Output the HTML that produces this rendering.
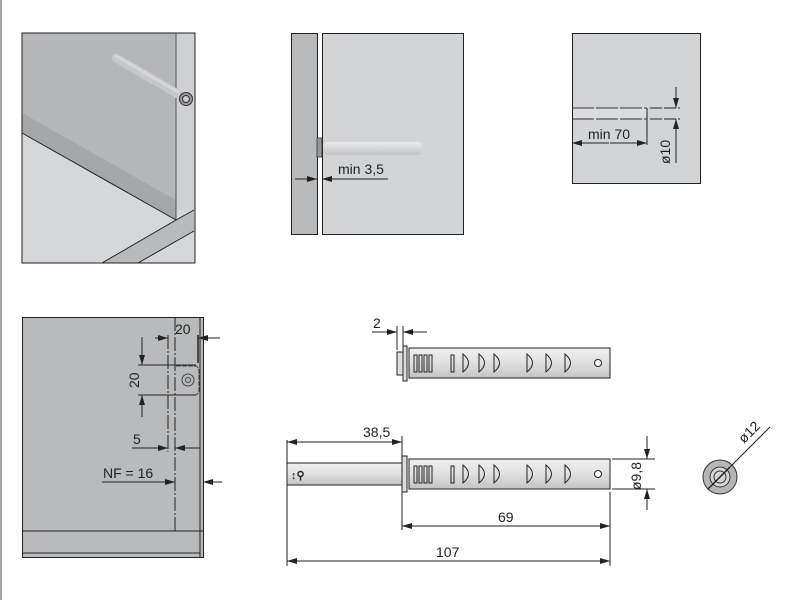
<!DOCTYPE html>
<html><head><meta charset="utf-8"><style>
html,body{margin:0;padding:0;background:#fff;}
svg{display:block}
text{font-family:"Liberation Sans",sans-serif;fill:#222;}
</style></head><body>
<svg width="800" height="600" viewBox="0 0 800 600" xmlns="http://www.w3.org/2000/svg">
<defs>
<marker id="a" viewBox="0 0 10 6" refX="10" refY="3" markerWidth="10" markerHeight="6" orient="auto" markerUnits="userSpaceOnUse"><path d="M0,0L10,3L0,6z" fill="#222"/></marker>
<linearGradient id="pin" x1="0" y1="0" x2="0" y2="1"><stop offset="0" stop-color="#e8e8e8"/><stop offset="1" stop-color="#c4c5c7"/></linearGradient>
<linearGradient id="tube" x1="0" y1="0" x2="0" y2="1"><stop offset="0" stop-color="#f0f0f0"/><stop offset="0.5" stop-color="#e0e0e0"/><stop offset="1" stop-color="#c4c4c4"/></linearGradient>
</defs>
<rect x="0" y="0" width="2" height="600" fill="#a8a8ac"/>

<!-- Panel 1 -->
<rect x="22" y="33" width="173" height="230" fill="#d6d7d9"/>
<polygon points="22,33 176,33 176,220 22,133" fill="#b5b6b8"/>
<polygon points="22,113 176,200 176,220 22,133" fill="#a6a7a9"/>
<rect x="176" y="33" width="19" height="177" fill="#cfd0d2"/>
<polygon points="176,220 194,210 194,231 138,263 102,263 176,220" fill="#b9babc"/>
<line x1="22" y1="133" x2="176" y2="220" stroke="#222" stroke-width="1"/>
<line x1="176" y1="33" x2="176" y2="220" stroke="#555" stroke-width="1"/>
<line x1="176" y1="220" x2="194" y2="210" stroke="#222"/>
<line x1="194" y1="231" x2="138" y2="263" stroke="#222"/>
<line x1="176" y1="220" x2="102" y2="263" stroke="#222"/>
<line x1="116" y1="58" x2="178" y2="94" stroke="#c6c7c9" stroke-width="9" stroke-linecap="round"/>
<line x1="116" y1="56" x2="178" y2="92" stroke="#d6d6d6" stroke-width="3" stroke-linecap="round"/>
<circle cx="186" cy="99" r="6.5" fill="#999" stroke="#333"/>
<circle cx="186" cy="99" r="3.5" fill="#ccc" stroke="#333"/>
<rect x="22" y="33" width="173" height="230" fill="none" stroke="#222"/>

<!-- Panel 2 -->
<rect x="291.5" y="33.5" width="26" height="201" fill="#b9babc" stroke="#222"/>
<rect x="322.5" y="33.5" width="141" height="201" fill="#d3d4d6" stroke="#222"/>
<rect x="323" y="142" width="99" height="13" rx="4" fill="url(#pin)"/>
<rect x="317" y="138" width="5" height="19" fill="#999" stroke="#333" stroke-width="0.8"/>
<line x1="295" y1="179" x2="317" y2="179" stroke="#222" marker-end="url(#a)"/>
<line x1="388" y1="179" x2="322" y2="179" stroke="#222" marker-end="url(#a)"/>
<text x="338" y="174" font-size="14">min 3,5</text>

<!-- Panel 3 -->
<rect x="572.5" y="33.5" width="128" height="150" fill="#d3d4d6" stroke="#222"/>
<rect x="573" y="108" width="74" height="11" fill="#dcdcdd"/>
<line x1="572" y1="108" x2="647" y2="108" stroke="#333" stroke-dasharray="22,2"/>
<line x1="572" y1="119" x2="647" y2="119" stroke="#333" stroke-dasharray="22,2"/>
<line x1="647" y1="108" x2="647" y2="145" stroke="#222"/>
<line x1="650" y1="108" x2="680" y2="108" stroke="#222" stroke-dasharray="12,2"/>
<line x1="650" y1="119" x2="680" y2="119" stroke="#222" stroke-dasharray="12,2"/>
<line x1="609" y1="143" x2="572" y2="143" stroke="#222" marker-end="url(#a)"/>
<line x1="610" y1="143" x2="647" y2="143" stroke="#222" marker-end="url(#a)"/>
<text x="588" y="139" font-size="14">min 70</text>
<line x1="676" y1="87" x2="676" y2="108" stroke="#222" marker-end="url(#a)"/>
<line x1="676" y1="163" x2="676" y2="119" stroke="#222" marker-end="url(#a)"/>
<text x="0" y="0" font-size="14" transform="translate(670,164) rotate(-90)">ø10</text>

<!-- Panel 4 -->
<rect x="22.5" y="317.5" width="181" height="240" fill="#b9babc" stroke="#222"/>
<line x1="200" y1="317" x2="200" y2="557" stroke="#222"/>
<line x1="22" y1="531" x2="203" y2="531" stroke="#222"/>
<line x1="22" y1="553" x2="200" y2="553" stroke="#222"/>
<line x1="175" y1="317" x2="175" y2="531" stroke="#222" stroke-dasharray="14,2,2,2"/>
<line x1="168" y1="335" x2="168" y2="452" stroke="#222" stroke-dasharray="14,2,2,2"/>
<line x1="198" y1="335" x2="198" y2="363" stroke="#222" stroke-width="1.5"/>
<path d="M176,366 H195 Q199,366 199,372 V390 Q199,395 194,395 H176" fill="none" stroke="#444" stroke-dasharray="5,1"/>
<circle cx="188" cy="380" r="6" fill="none" stroke="#444"/>
<circle cx="188" cy="380" r="2.5" fill="none" stroke="#444"/>
<line x1="155" y1="338" x2="168" y2="338" stroke="#222" marker-end="url(#a)"/>
<line x1="220" y1="338" x2="198" y2="338" stroke="#222" marker-end="url(#a)"/>
<text x="175" y="334" font-size="14">20</text>
<line x1="142" y1="337" x2="142" y2="365" stroke="#222" marker-end="url(#a)"/>
<line x1="142" y1="417" x2="142" y2="395" stroke="#222" marker-end="url(#a)"/>
<line x1="138" y1="365" x2="196" y2="365" stroke="#222"/>
<line x1="138" y1="395" x2="196" y2="395" stroke="#222"/>
<text x="0" y="0" font-size="14" transform="translate(139,388) rotate(-90)">20</text>
<line x1="132" y1="448" x2="168" y2="448" stroke="#222" marker-end="url(#a)"/>
<line x1="200" y1="448" x2="175" y2="448" stroke="#222" marker-end="url(#a)"/>
<text x="133" y="444" font-size="14">5</text>
<line x1="102" y1="482" x2="175" y2="482" stroke="#222" marker-end="url(#a)"/>
<line x1="222" y1="482" x2="203" y2="482" stroke="#222" marker-end="url(#a)"/>
<text x="103" y="478" font-size="14">NF = 16</text>

<!-- Top tube -->
<g stroke="#222" stroke-width="1">
<rect x="397" y="352" width="6" height="23" fill="#ddd"/>
<rect x="403" y="346" width="4" height="35" fill="#ddd"/>
<rect x="409" y="348" width="201" height="30" fill="url(#tube)"/>
</g>
<g id="det" fill="none" stroke="#222" stroke-width="1">
<rect x="414" y="355" width="3" height="17"/><rect x="419" y="355" width="3" height="17"/><rect x="424" y="355" width="3" height="17"/><rect x="429" y="355" width="3" height="17"/>
<rect x="451" y="355" width="3" height="17"/>
<path d="M463,354 Q474,363 463,372 Z"/><path d="M479,354 Q490,363 479,372 Z"/><path d="M494,354 Q505,363 494,372 Z"/>
<path d="M527,354 Q538,363 527,372 Z"/><path d="M546,354 Q557,363 546,372 Z"/><path d="M565,354 Q576,363 565,372 Z"/>
<circle cx="598" cy="363" r="3.5" fill="#fff"/>
</g>
<line x1="372" y1="332" x2="397" y2="332" stroke="#222" marker-end="url(#a)"/>
<line x1="427" y1="332" x2="403" y2="332" stroke="#222" marker-end="url(#a)"/>
<line x1="397" y1="326" x2="397" y2="350" stroke="#222"/>
<line x1="403" y1="326" x2="403" y2="346" stroke="#222"/>
<text x="373" y="328" font-size="14">2</text>

<!-- Bottom tube -->
<g stroke="#222">
<rect x="287" y="463" width="115" height="22" fill="url(#tube)"/>
<rect x="402" y="456" width="5" height="36" fill="#ddd"/>
<rect x="409" y="459" width="201" height="30" fill="url(#tube)"/>
</g>
<text x="291" y="479" font-size="11" font-weight="bold">↕⚲</text>
<use href="#det" transform="translate(0,111)"/>
<line x1="287" y1="440" x2="287" y2="566" stroke="#222"/>
<line x1="402" y1="436" x2="402" y2="530" stroke="#222"/>
<line x1="610" y1="492" x2="610" y2="566" stroke="#222"/>
<line x1="345" y1="442" x2="287" y2="442" stroke="#222" marker-end="url(#a)"/>
<line x1="345" y1="442" x2="402" y2="442" stroke="#222" marker-end="url(#a)"/>
<text x="363" y="437" font-size="14">38,5</text>
<line x1="505" y1="526" x2="402" y2="526" stroke="#222" marker-end="url(#a)"/>
<line x1="505" y1="526" x2="610" y2="526" stroke="#222" marker-end="url(#a)"/>
<text x="498" y="522" font-size="14">69</text>
<line x1="448" y1="561" x2="287" y2="561" stroke="#222" marker-end="url(#a)"/>
<line x1="448" y1="561" x2="610" y2="561" stroke="#222" marker-end="url(#a)"/>
<text x="436" y="557" font-size="14">107</text>
<line x1="612" y1="459" x2="655" y2="459" stroke="#222"/>
<line x1="612" y1="489" x2="655" y2="489" stroke="#222"/>
<line x1="647" y1="436" x2="647" y2="459" stroke="#222" marker-end="url(#a)"/>
<line x1="647" y1="510" x2="647" y2="489" stroke="#222" marker-end="url(#a)"/>
<text x="0" y="0" font-size="14" transform="translate(641,490) rotate(-90)">ø9,8</text>

<!-- circle -->
<circle cx="720" cy="477" r="17" fill="#b5b5b7" stroke="#333"/>
<circle cx="720" cy="477" r="10" fill="#d5d5d5" stroke="#333"/>
<circle cx="720" cy="477" r="6" fill="none" stroke="#333"/>
<line x1="708" y1="489" x2="730" y2="467" stroke="#222" stroke-width="1.5"/>
<line x1="730" y1="467" x2="770" y2="427" stroke="#222"/>
<text x="0" y="0" font-size="14" transform="translate(744,444) rotate(-45)">ø12</text>
</svg>
</body></html>
